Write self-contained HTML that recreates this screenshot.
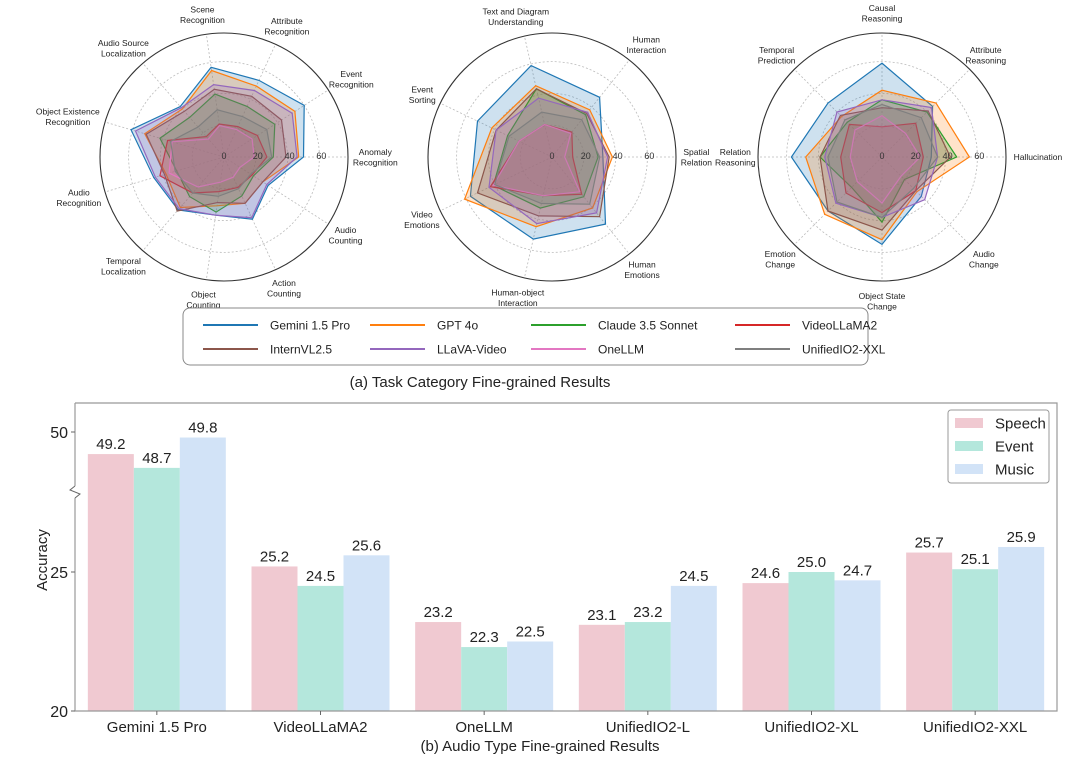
<!DOCTYPE html>
<html><head><meta charset="utf-8">
<style>
html,body{margin:0;padding:0;background:#fff;}
svg{display:block;font-family:"Liberation Sans","DejaVu Sans",sans-serif;}
</style></head>
<body>
<svg id="fig" width="1080" height="764" viewBox="0 0 1080 764" xmlns="http://www.w3.org/2000/svg">
<g id="radars"></g>
<g id="legendA"></g>
<text x="480" y="387" font-size="15" text-anchor="middle" fill="#222">(a) Task Category Fine-grained Results</text>
<g id="bars"></g>
<text x="540" y="751" font-size="15" text-anchor="middle" fill="#222">(b) Audio Type Fine-grained Results</text>
</svg>
<script>
const NS="http://www.w3.org/2000/svg";
const models=["Gemini 1.5 Pro","GPT 4o","Claude 3.5 Sonnet","VideoLLaMA2","InternVL2.5","LLaVA-Video","OneLLM","UnifiedIO2-XXL"];
const modelColors=["#1f77b4","#ff7f0e","#2ca02c","#d62728","#8c564b","#9467bd","#e377c2","#7f7f7f"];

const axes1=[["Anomaly","Recognition"],["Event","Recognition"],["Attribute","Recognition"],["Scene","Recognition"],["Audio Source","Localization"],["Object Existence","Recognition"],["Audio","Recognition"],["Temporal","Localization"],["Object","Counting"],["Action","Counting"],["Audio","Counting"]];
const vals1=[
[50,60,53,57,42,61,46,44,37,43,33],
[47,53,49,55,40,52,38,42,31,32,29],
[31,38,35,40,33,42,31,33,35,27,22],
[27,25,21,21,17,37,42,30,22,21,21],
[39,43,42,43,38,51,39,45,29,32,29],
[46,51,46,46,41,58,45,43,37,42,32],
[19,21,19,20,15,34,36,25,16,14,12],
[30,32,28,30,25,35,32,30,25,22,20]];

const axes2=[["Spatial","Relation"],["Human","Interaction"],["Text and Diagram","Understanding"],["Event","Sorting"],["Video","Emotions"],["Human-object","Interaction"],["Human","Emotions"]];
const vals2=[
[32,48,59,52,57,53,54],
[38,38,46,42,61,45,41],
[29,34,44,31,41,33,32],
[13,20,21,23,43,25,30],
[36,35,44,39,52,38,48],
[35,36,38,39,44,43,45],
[8,19,21,23,41,25,28],
[30,30,29,30,40,30,38]];

const axes3=[["Hallucination"],["Attribute","Reasoning"],["Causal","Reasoning"],["Temporal","Prediction"],["Relation","Reasoning"],["Emotion","Change"],["Object State","Change"],["Audio","Change"]];
const vals3=[
[31,45,59,48,57,48,55,35],
[55,48,42,36,48,51,52,31],
[47,40,36,31,39,27,41,20],
[26,30,19,29,26,32,35,30],
[43,41,31,37,39,48,46,30],
[35,44,36,40,36,41,38,38],
[24,21,26,24,20,22,29,17],
[35,35,33,33,34,40,38,28]];
const rTicks=[0,20,40,60];

function el(tag,attrs,parent){const e=document.createElementNS(NS,tag);for(const k in attrs)e.setAttribute(k,attrs[k]);if(parent)parent.appendChild(e);return e;}

const RMAX=78, RPX=124;
function drawRadar(g,cx,cy,axes,vals,name){
  const grp=el("g",{},g);
  
  
  const n=axes.length;
  const rs=v=>v/RMAX*RPX;
  const ang=i=>i*2*Math.PI/n;
  [20,40,60].forEach(t=>{const c=el("circle",{cx:cx,cy:cy,r:rs(t),fill:"none",stroke:"#bbb","stroke-width":0.8,"stroke-dasharray":"2,2"},grp);
    
    });
  axes.forEach((a,i)=>{const t=ang(i);
    const l=el("line",{x1:cx,y1:cy,x2:cx+RPX*Math.cos(t),y2:cy-RPX*Math.sin(t),stroke:"#bbb","stroke-width":0.8,"stroke-dasharray":"2,2"},grp);
    
    
  });
  vals.forEach((row,m)=>{
    const pts=row.map((v,i)=>{const t=ang(i);return (cx+rs(v)*Math.cos(t)).toFixed(1)+","+(cy-rs(v)*Math.sin(t)).toFixed(1);}).join(" ");
    const p=el("polygon",{points:pts,fill:modelColors[m],"fill-opacity":0.22,stroke:modelColors[m],"stroke-width":1.2},grp);
    
    
  });
  const oc=el("circle",{cx:cx,cy:cy,r:RPX,fill:"none",stroke:"#333","stroke-width":1.1},grp);
  
  
  rTicks.forEach(t=>{const tx=el("text",{x:cx+rs(t)+ (t==0?0:2),y:cy+2,"font-size":9,fill:"#333","text-anchor":"middle"},grp);tx.textContent=t;
    
    });
  axes.forEach((a,i)=>{const t=ang(i);const R=RPX+20;
    let x=cx+R*Math.cos(t), y=cy-R*Math.sin(t);
    const c=Math.cos(t);
    x+= c*Math.max(0,(Math.max(...a.map(s=>s.length))*2.3-18));
    const tx=el("text",{x:x,y:y-(a.length-1)*5+3,"font-size":8.5,fill:"#222","text-anchor":"middle"},grp);
    
    
    a.forEach((s,k)=>{const sp=el("tspan",{x:x,dy:k==0?0:10.5},tx);sp.textContent=s;});
  });
}
const R=document.getElementById("radars");
drawRadar(R,224,157,axes1,vals1,"radar-perception");
drawRadar(R,552,157,axes2,vals2,"radar-understanding");
drawRadar(R,882,157,axes3,vals3,"radar-reasoning");

// legend a
const LG=document.getElementById("legendA");
const lb=el("rect",{x:183,y:308,width:685,height:57,rx:7,fill:"#fff",stroke:"#888","stroke-width":1},LG);


const colX=[203,370,531,735];
const legendOrder=[0,1,2,3,4,5,6,7];
legendOrder.forEach((m,k)=>{const col=k%4,row=Math.floor(k/4);const x=colX[col],y=325+row*24;
  const g=el("g",{},LG);
  
  
  el("line",{x1:x,y1:y,x2:x+55,y2:y,stroke:modelColors[m],"stroke-width":2},g);
  const t=el("text",{x:x+67,y:y+4.5,"font-size":12,fill:"#222"},g);t.textContent=models[m];
});

// bar chart
const barModels=["Gemini 1.5 Pro","VideoLLaMA2","OneLLM","UnifiedIO2-L","UnifiedIO2-XL","UnifiedIO2-XXL"];
const speech=[49.2,25.2,23.2,23.1,24.6,25.7];
const eventV=[48.7,24.5,22.3,23.2,25.0,25.1];
const music=[49.8,25.6,22.5,24.5,24.7,25.9];
const seriesNames=["Speech","Event","Music"];
const seriesColors=["#f0c9d1","#b4e7dc","#d2e3f7"];
const yTicks=[20,25,50];

const B=document.getElementById("bars");
const L=75,T=403,Rr=1057,Bt=711;
function yScale(v){return v>35? 432-(v-50)*27.6 : 711-(v-20)*27.8;}
const gw=(Rr-L)/6;
function gx(i){return L+gw*(i+0.5);}
const bw=46;
const all=[speech,eventV,music];
all.forEach((arr,s)=>{arr.forEach((v,i)=>{
  const x=gx(i)-1.5*bw+s*bw, y=yScale(v);
  const r=el("rect",{x:x,y:y,width:bw,height:Bt-y,fill:seriesColors[s]},B);
  
  
  const t=el("text",{x:x+bw/2,y:y-5,"font-size":15,"text-anchor":"middle",fill:"#222"},B);t.textContent=v.toFixed(1);
  
  
});});
const frame=el("path",{d:`M${L},${T} H${Rr} V${Bt} H${L} V498 M${L},486 V${T}`,fill:"none",stroke:"#999","stroke-width":1.2},B);


const brk=el("path",{d:`M${L},486 L${L-5},490 L${L+5},494 L${L},498`,fill:"none",stroke:"#666","stroke-width":1},B);


yTicks.forEach(t=>{const y=yScale(t);
  el("line",{x1:L-4,y1:y,x2:L,y2:y,stroke:"#666"},B);
  const tx=el("text",{x:L-7,y:y+6,"font-size":16,"text-anchor":"end",fill:"#222"},B);tx.textContent=t;
  
  });
barModels.forEach((m,i)=>{
  el("line",{x1:gx(i),y1:Bt,x2:gx(i),y2:Bt+4,stroke:"#666"},B);
  const tx=el("text",{x:gx(i),y:Bt+21,"font-size":15,"text-anchor":"middle",fill:"#222"},B);tx.textContent=m;
  
  });
const yt=el("text",{x:0,y:0,"font-size":15,"text-anchor":"middle",fill:"#222",transform:"translate(47,560) rotate(-90)"},B);yt.textContent="Accuracy";


const lf=el("rect",{x:948,y:410,width:101,height:73,rx:3,fill:"#fff",stroke:"#999"},B);


seriesNames.forEach((s,k)=>{const y=423+k*23;
  const g=el("g",{},B);
  
  
  el("rect",{x:955,y:y-5,width:28,height:10,fill:seriesColors[s===undefined?0:k]},g);
  const t=el("text",{x:995,y:y+5.5,"font-size":15,fill:"#222"},g);t.textContent=s;});
</script>
</body></html>
